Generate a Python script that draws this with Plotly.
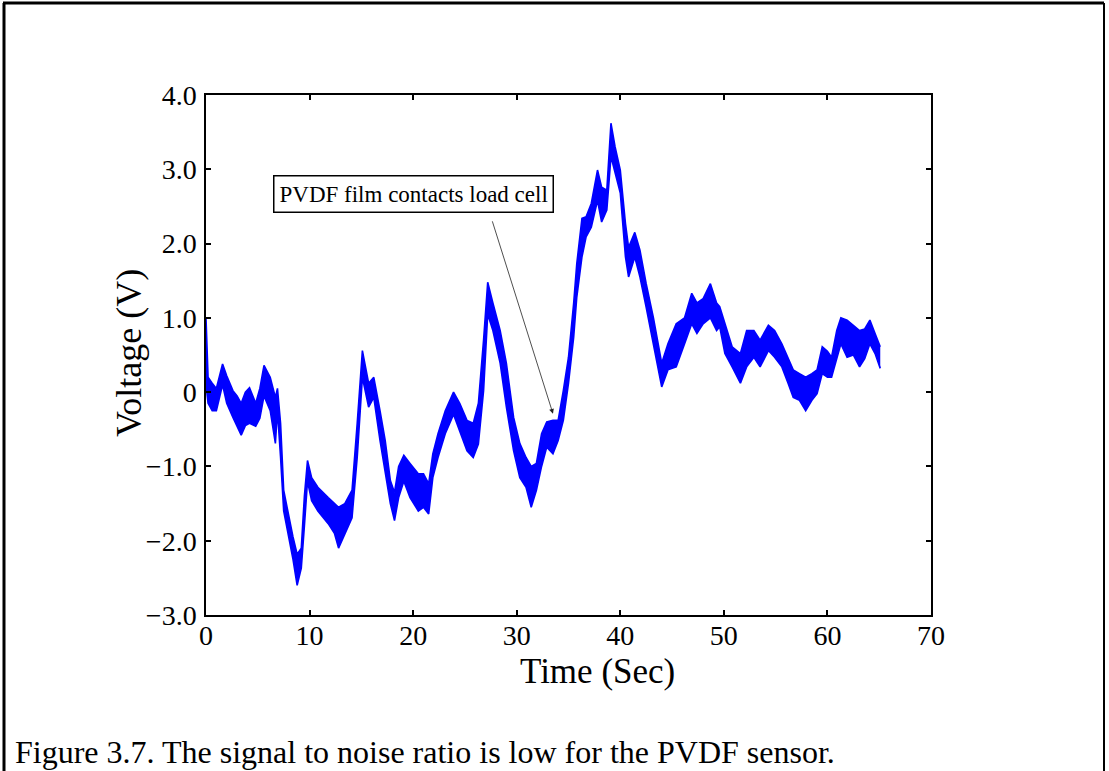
import plotly.graph_objects as go

# ---- data (time in s, lower / upper edge of the noisy trace in V)
time_s = [0.0, 0.2, 0.6, 1.0, 1.6, 2.0, 2.6, 3.0, 3.4, 3.8, 4.2, 4.8, 5.2, 5.6, 6.2, 6.7, 6.9,
          7.2, 7.5, 8.0, 8.4, 8.8, 9.2, 9.5, 9.8, 10.2, 10.8, 11.8, 12.4, 12.8, 13.4, 14.1,
          14.6, 15.1, 15.7, 16.2, 16.8, 17.3, 17.8, 18.2, 18.6, 19.1, 19.7, 20.5, 21.0, 21.5,
          21.9, 22.4, 23.1, 23.9, 24.5, 25.2, 25.8, 26.3, 26.8, 27.2, 27.7, 28.4, 29.0, 29.7,
          30.3, 30.9, 31.4, 31.9, 32.4, 32.9, 33.5, 34.0, 34.5, 35.0, 35.5, 35.8, 36.3, 36.7,
          37.2, 37.8, 38.2, 38.7, 39.1, 39.5, 40.0, 40.5, 40.8, 41.4, 41.9, 42.5, 43.2, 43.7,
          44.0, 44.6, 45.4, 46.2, 46.9, 47.4, 48.0, 48.7, 49.3, 49.6, 50.1, 50.8, 51.6, 52.2,
          52.9, 53.5, 54.3, 54.9, 55.6, 56.2, 56.7, 57.3, 57.9, 58.5, 59.0, 59.5, 60.0, 60.4,
          60.9, 61.3, 61.9, 62.5, 63.1, 63.6, 64.1, 64.6, 65.1]
volt_low = [0.10, -0.15, -0.25, -0.25, 0.10, -0.15, -0.34, -0.45, -0.58, -0.45, -0.42, -0.46,
            -0.35, -0.05, -0.25, -0.69, -0.25, -0.88, -1.60, -1.96, -2.25, -2.60, -2.37, -1.80,
            -1.20, -1.46, -1.60, -1.77, -1.90, -2.10, -1.90, -1.69, -0.88, 0.20, -0.20, -0.07,
            -0.65, -1.10, -1.50, -1.73, -1.42, -1.20, -1.42, -1.60, -1.55, -1.64, -1.15, -0.88,
            -0.56, -0.30, -0.52, -0.79, -0.88, -0.70, 0.02, 1.05, 0.83, 0.39, -0.20, -0.79,
            -1.15, -1.28, -1.55, -1.32, -1.00, -0.74, -0.83, -0.65, -0.38, 0.12, 0.74, 1.28,
            1.82, 2.09, 2.22, 2.58, 2.29, 2.45, 3.17, 2.95, 2.68, 1.82, 1.55, 1.82, 1.55, 1.14,
            0.65, 0.25, 0.07, 0.30, 0.34, 0.65, 0.92, 0.79, 0.92, 1.00, 0.83, 0.88, 0.52, 0.34,
            0.12, 0.34, 0.47, 0.34, 0.56, 0.47, 0.34, 0.12, -0.07, -0.11, -0.25, -0.11, -0.02,
            0.25, 0.20, 0.20, 0.47, 0.65, 0.47, 0.50, 0.34, 0.45, 0.65, 0.52, 0.32]
volt_high = [1.00, 0.20, 0.12, 0.05, 0.38, 0.22, 0.02, -0.05, -0.15, 0.00, 0.06, -0.15, 0.05,
             0.36, 0.20, -0.07, 0.05, -0.42, -1.32, -1.69, -1.95, -2.18, -2.10, -1.40, -0.92,
             -1.15, -1.28, -1.42, -1.50, -1.55, -1.50, -1.32, -0.42, 0.56, 0.12, 0.20, -0.25,
             -0.65, -1.19, -1.35, -1.00, -0.85, -0.96, -1.10, -1.10, -1.23, -0.83, -0.56, -0.25,
             0.00, -0.15, -0.38, -0.42, -0.15, 0.70, 1.48, 1.20, 0.83, 0.39, -0.34, -0.69,
             -0.88, -1.00, -0.96, -0.56, -0.40, -0.38, -0.38, 0.02, 0.47, 1.20, 1.73, 2.34,
             2.36, 2.54, 2.99, 2.76, 2.72, 3.62, 3.30, 2.99, 2.27, 1.95, 2.15, 1.91, 1.46, 1.00,
             0.65, 0.39, 0.65, 0.92, 1.00, 1.33, 1.20, 1.26, 1.46, 1.20, 1.15, 0.92, 0.61, 0.52,
             0.83, 0.83, 0.70, 0.90, 0.83, 0.65, 0.47, 0.30, 0.25, 0.20, 0.25, 0.30, 0.61, 0.55,
             0.47, 0.83, 1.00, 0.97, 0.90, 0.83, 0.85, 0.97, 0.79, 0.61]

x_ticks = [0, 10, 20, 30, 40, 50, 60, 70]
x_ticklabels = ["0", "10", "20", "30", "40", "50", "60", "70"]
y_ticks = [-3, -2, -1, 0, 1, 2, 3, 4]
y_ticklabels = ["\u22123.0", "\u22122.0", "\u22121.0", "0", "1.0", "2.0", "3.0", "4.0"]

x_title = "Time (Sec)"
y_title = "Voltage (V)"
annotation_text = "PVDF film contacts load cell"
caption_text = "Figure 3.7. The signal to noise ratio is low for the PVDF sensor."

SERIF = "Liberation Serif, Times New Roman, serif"
BLUE = "#0000FF"

W, H = 1109, 771
L, R, T, B = 206, 178, 95, 156
pw, ph = W - L - R, H - T - B


def px(x):
    return (x - L) / pw


def py(y):
    return (H - B - y) / ph


fig = go.Figure()
fig.add_trace(go.Scatter(x=time_s, y=volt_high, mode="lines",
                         line=dict(color=BLUE, width=1.6), showlegend=False,
                         hoverinfo="skip"))
fig.add_trace(go.Scatter(x=time_s, y=volt_low, mode="lines",
                         line=dict(color=BLUE, width=1.6), fill="tonexty",
                         fillcolor=BLUE, showlegend=False, hoverinfo="skip"))

axis_common = dict(showgrid=False, zeroline=False, showline=True, linecolor="black",
                   linewidth=1.5, mirror="ticks", ticks="inside", ticklen=5,
                   tickwidth=1.5, tickcolor="black",
                   tickfont=dict(family=SERIF, size=28, color="black"))

fig.update_layout(
    width=W, height=H,
    margin=dict(l=L, r=R, t=T, b=B, pad=0),
    paper_bgcolor="white", plot_bgcolor="white",
    xaxis=dict(range=[0, 70], tickvals=x_ticks, ticktext=x_ticklabels,
               ticklabelstandoff=-5, **axis_common),
    yaxis=dict(range=[-3, 4], tickvals=y_ticks, ticktext=y_ticklabels,
               ticklabelstandoff=2, **axis_common),
    font=dict(family=SERIF, color="black"),
)

# axis titles
fig.add_annotation(x=px(597), y=py(671), xref="paper", yref="paper", text=x_title,
                   showarrow=False, xanchor="center", yanchor="middle",
                   font=dict(family=SERIF, size=35, color="black"))
fig.add_annotation(x=px(129), y=py(353), xref="paper", yref="paper", text=y_title,
                   showarrow=False, xanchor="center", yanchor="middle", textangle=-90,
                   font=dict(family=SERIF, size=36, color="black"))

# label box
fig.add_annotation(x=20.0, y=2.67, xref="x", yref="y", text=annotation_text,
                   showarrow=False, font=dict(family=SERIF, size=23, color="black"),
                   bordercolor="black", borderwidth=1.5, borderpad=5, bgcolor="white")
# arrow from label box to the trace
fig.add_annotation(x=33.5, y=-0.29, xref="x", yref="y", ax=27.6, ay=2.32,
                   axref="x", ayref="y", text="", showarrow=True, arrowhead=2,
                   arrowsize=1.2, arrowwidth=0.8, arrowcolor="#222222", standoff=0,
                   startstandoff=0)

# caption
fig.add_annotation(x=px(13), y=py(752), xref="paper", yref="paper", text=caption_text,
                   showarrow=False, xanchor="left", yanchor="middle",
                   font=dict(family=SERIF, size=32, color="black"))

# outer figure frame (open at the bottom)
fig.add_shape(type="line", xref="paper", yref="paper", x0=px(4), x1=px(4), y0=py(3), y1=py(775),
              line=dict(color="black", width=3))
fig.add_shape(type="line", xref="paper", yref="paper", x0=px(3), x1=px(1104), y0=py(3), y1=py(3),
              line=dict(color="black", width=3))
fig.add_shape(type="line", xref="paper", yref="paper", x0=px(1104), x1=px(1104), y0=py(3), y1=py(775),
              line=dict(color="black", width=2))

fig.write_html("out.html")
